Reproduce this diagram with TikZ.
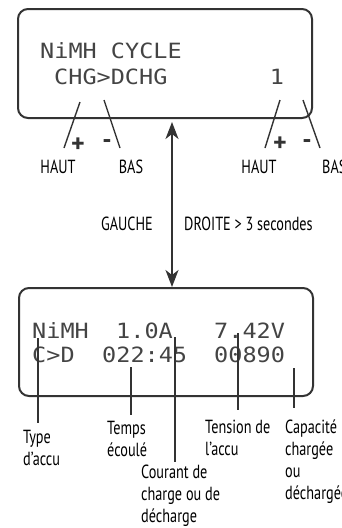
\documentclass[tikz,border=0pt]{standalone}
\usepackage{fontspec}
\usetikzlibrary{arrows.meta}
\setmainfont[FakeStretch=0.75]{PT Sans}
\newfontfamily\signfont{PT Sans}
\newfontfamily\lcdfont[FakeStretch=1.12]{DejaVu Sans Mono}
\definecolor{ink}{HTML}{333333}
\definecolor{lcdink}{HTML}{444444}
\tikzset{
  lcdbox/.style={draw=ink, line width=2pt, rounded corners=10pt, inner sep=0pt},
  lcdtxt/.style={font=\lcdfont\fontsize{21}{21}\selectfont, text=lcdink, inner sep=0pt, anchor=base west},
  lbl/.style={font=\fontsize{19}{22}\selectfont, text=black, inner sep=0pt, anchor=base},
  blbl/.style={font=\fontsize{19}{22}\selectfont, text=black, inner sep=0pt, anchor=base west, align=left},
  sign/.style={font=\signfont\bfseries\fontsize{26}{26}\selectfont, text=ink, inner sep=0pt},
  leader/.style={draw=ink, line width=1.4pt},
  vleader/.style={draw=ink, line width=1.6pt},
  bigarrow/.style={draw=ink, line width=2pt, {Stealth[length=17pt,width=13pt,inset=5pt]}-{Stealth[length=17pt,width=13pt,inset=5pt]}}
}
\begin{document}
\begin{tikzpicture}[x=1pt,y=-1pt]
\useasboundingbox (0,0) rectangle (341,528);
% boxes
\node[lcdbox, minimum width=294pt, minimum height=109pt, anchor=north west] (lcd1) at (17,8) {};
\node[lcdbox, minimum width=294pt, minimum height=108pt, anchor=north west] (lcd2) at (18,287) {};
% LCD texts top
\node[lcdtxt] (t1) at (40,58) {NiMH CYCLE};
\node[lcdtxt] (t2) at (54,84) {CHG>DCHG};
\node[lcdtxt, anchor=base] (t3) at (277,84) {1};
% LCD texts bottom
\node[lcdtxt] (b1) at (32,338) {NiMH};
\node[lcdtxt] (b2) at (116,338) {1.0A};
\node[lcdtxt] (b3) at (214,338) {7.42V};
\node[lcdtxt] (b4) at (32,362) {C>D};
\node[lcdtxt] (b5) at (102,362) {022:45};
\node[lcdtxt] (b6) at (214,362) {00890};
% arrow
\coordinate (ax) at (172,0);
\draw[bigarrow] ([yshift=-3pt]lcd1.south -| ax) -- (lcd2.north -| ax);
\node[lbl, anchor=base east] (gauche) at (153,230) {GAUCHE};
\node[lbl, anchor=base west] (droite) at (184,230) {DROITE > 3 secondes};
% top leaders
\coordinate (p1a) at (80,102); \coordinate (p1b) at (64,148);
\coordinate (m1a) at (104,100); \coordinate (m1b) at (120,148);
\coordinate (p2a) at (280,100); \coordinate (p2b) at (265,148);
\coordinate (m2a) at (303,100); \coordinate (m2b) at (320,148);
\draw[leader] (p1a) -- (p1b);
\draw[leader] (m1a) -- (m1b);
\draw[leader] (p2a) -- (p2b);
\draw[leader] (m2a) -- (m2b);
\node[sign] (s1) at (78,145) {+};
\node[sign] (s2) at (107,144) {-};
\node[sign] (s3) at (280,144) {+};
\node[sign] (s4) at (307,144) {-};
\node[lbl] (haut1) at (58,173) {HAUT};
\node[lbl] (bas1) at (131,173) {BAS};
\node[lbl] (haut2) at (259,173) {HAUT};
\node[lbl, anchor=base west] (bas2) at (322,173) {BAS};
% bottom labels (base anchor = last line)
\node[blbl] (type) at (23,465) {Type\\d'accu};
\node[blbl] (temps) at (107,456) {Temps\\écoulé};
\node[blbl] (courant) at (141,522) {Courant de\\charge ou de\\décharge};
\node[blbl] (tension) at (205,455) {Tension de\\l'accu};
\node[blbl] (capa) at (285,499) {Capacité\\chargée\\ou\\déchargée};
% bottom leaders
\coordinate (la) at (38,338); \coordinate (lb) at (38,423);
\coordinate (ma) at (131,367); \coordinate (mb) at (131,415);
\coordinate (na) at (175,337); \coordinate (nb) at (175,462);
\coordinate (oa) at (238,333); \coordinate (ob) at (238,410);
\coordinate (qa) at (294,368); \coordinate (qb) at (294,408);
\draw[vleader] (la) -- (lb);
\draw[vleader] (ma) -- (mb);
\draw[vleader] (na) -- (nb);
\draw[vleader] (oa) -- (ob);
\draw[vleader] (qa) -- (qb);
\end{tikzpicture}
\end{document}
